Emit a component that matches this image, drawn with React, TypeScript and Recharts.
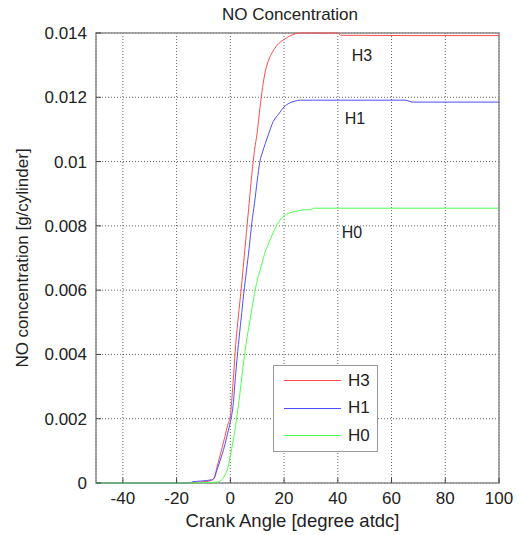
import { LineChart, Line, XAxis, YAxis, CartesianGrid, Legend, ReferenceDot, ReferenceArea } from 'recharts'

const FONT = '"Liberation Sans", Arial, sans-serif'

// crank angle [degree atdc]
const angles = [-50, -15, -14, -11, -7, -6, -5, -4, -2, -1, 0, 1, 2, 3, 4, 5, 6, 7, 8, 9, 10, 11, 12, 13, 14, 16, 18, 20, 22, 24, 26, 28, 30, 31, 40, 41, 65, 68, 100]

// NO concentration [g/cylinder]
const h3 = [0, 0, 0, 0.00003, 0.00008, 0.00016, 0.00048, 0.0008, 0.00145, 0.0018, 0.0021, 0.0031, 0.0043, 0.0052, 0.006, 0.0069, 0.0078, 0.0087, 0.0096, 0.01035, 0.0109, 0.01165, 0.0123, 0.0128, 0.0131, 0.01345, 0.01367, 0.0138, 0.0139, 0.01397, 0.014, 0.014, 0.014, 0.014, 0.014, 0.01393, 0.01392, 0.01392, 0.01392]
const h1 = [0, 0, 0.00004, 0.00006, 0.0001, 0.00015, 0.0004, 0.00065, 0.0012, 0.00155, 0.0019, 0.0024, 0.0034, 0.0043, 0.0051, 0.0059, 0.0066, 0.0073, 0.0081, 0.0087, 0.0094, 0.01, 0.0103, 0.01056, 0.0108, 0.01125, 0.01148, 0.0117, 0.01182, 0.01188, 0.01191, 0.01191, 0.01191, 0.01191, 0.01191, 0.01191, 0.01191, 0.01185, 0.01185]
const h0 = [0, 0, 0, 0.00001, 0.00002, 0.00002, 0.00003, 0.00005, 0.00025, 0.00045, 0.00085, 0.0013, 0.0018, 0.0024, 0.0031, 0.0038, 0.0044, 0.0049, 0.0054, 0.0059, 0.0063, 0.0066, 0.0069, 0.0072, 0.0074, 0.0078, 0.00812, 0.00832, 0.0084, 0.00845, 0.00848, 0.0085, 0.0085, 0.00855, 0.00855, 0.00855, 0.00855, 0.00855, 0.00855]

const xTicks = [-40, -20, 0, 20, 40, 60, 80, 100]
const yTicks = [0, 0.002, 0.004, 0.006, 0.008, 0.01, 0.012, 0.014]

const series = [
  { key: 'H3', color: '#ff4d4d' },
  { key: 'H1', color: '#4d4dff' },
  { key: 'H0', color: '#4dff4d' },
]

// text labels written next to the curves
const curveLabels = [
  { name: 'H3', x: 49, y: 0.01331 },
  { name: 'H1', x: 46.4, y: 0.01135 },
  { name: 'H0', x: 45.3, y: 0.0078 },
]

const data = angles.map((a, i) => ({ angle: a, H3: h3[i], H1: h1[i], H0: h0[i] }))

const fmtY = (v: number) => String(+v.toFixed(3))

const renderLegend = () => (
  <div style={{ border: '1.5px solid #999', background: '#fff', width: 105, height: 87, boxSizing: 'border-box', paddingTop: 1 }}>
    {series.map(s => (
      <div key={s.key} style={{ display: 'flex', alignItems: 'center', height: 27.5, fontFamily: FONT, fontSize: 17, color: '#222' }}>
        <svg width={57} height={3} style={{ marginLeft: 10, marginRight: 7 }}>
          <line x1={0} x2={57} y1={1.5} y2={1.5} stroke={s.color} strokeWidth={1} />
        </svg>
        <span>{s.key}</span>
      </div>
    ))}
  </div>
)

export default function App() {
  return (
    <div style={{ position: 'absolute', left: 0, top: 0, width: 523, height: 535, background: '#fff', fontFamily: FONT }}>
      <div style={{ position: 'absolute', left: 90, top: 5, width: 400, textAlign: 'center', fontSize: 17, lineHeight: '20px', color: '#222' }}>
        NO Concentration
      </div>
      <LineChart width={523} height={535} data={data} margin={{ top: 33, right: 24, left: 36, bottom: 22 }}>
        <CartesianGrid stroke="#666" strokeDasharray="1 2" />
        <XAxis
          dataKey="angle"
          type="number"
          domain={[-50, 100]}
          ticks={xTicks}
          height={30}
          axisLine={false}
          tickSize={-5}
          tickMargin={14}
          tickLine={{ stroke: '#444' }}
          tick={{ fill: '#222', fontSize: 17, fontFamily: FONT }}
          label={{ value: 'Crank Angle [degree atdc]', position: 'bottom', offset: 1, dx: -5, fill: '#222', fontSize: 18.5, fontFamily: FONT }}
        />
        <YAxis
          type="number"
          domain={[0, 0.014]}
          ticks={yTicks}
          tickFormatter={fmtY}
          width={60}
          axisLine={false}
          tickSize={-5}
          tickMargin={14}
          tickLine={{ stroke: '#444' }}
          tick={{ fill: '#222', fontSize: 17, fontFamily: FONT }}
          label={{ value: 'NO concentration [g/cylinder]', angle: -90, position: 'insideLeft', offset: -14, fill: '#222', fontSize: 17, fontFamily: FONT, style: { textAnchor: 'middle' } }}
        />
        {series.map(s => (
          <Line key={s.key} dataKey={s.key} name={s.key} type="monotone" stroke={s.color} strokeWidth={1} dot={false} isAnimationActive={false} />
        ))}
        <ReferenceArea x1={-50} x2={100} y1={0} y2={0.014} fill="none" stroke="#8c8c8c" strokeWidth={1.5} />
        {curveLabels.map(l => (
          <ReferenceDot key={l.name} x={l.x} y={l.y} r={0} fill="none" stroke="none"
            label={{ value: l.name, position: 'center', fill: '#222', fontSize: 16, fontFamily: FONT }} />
        ))}
        <Legend
          layout="vertical"
          align="center"
          verticalAlign="middle"
          content={renderLegend}
          wrapperStyle={{ position: 'absolute', left: 273, top: 365, width: 105, height: 87 }}
        />
      </LineChart>
    </div>
  )
}
